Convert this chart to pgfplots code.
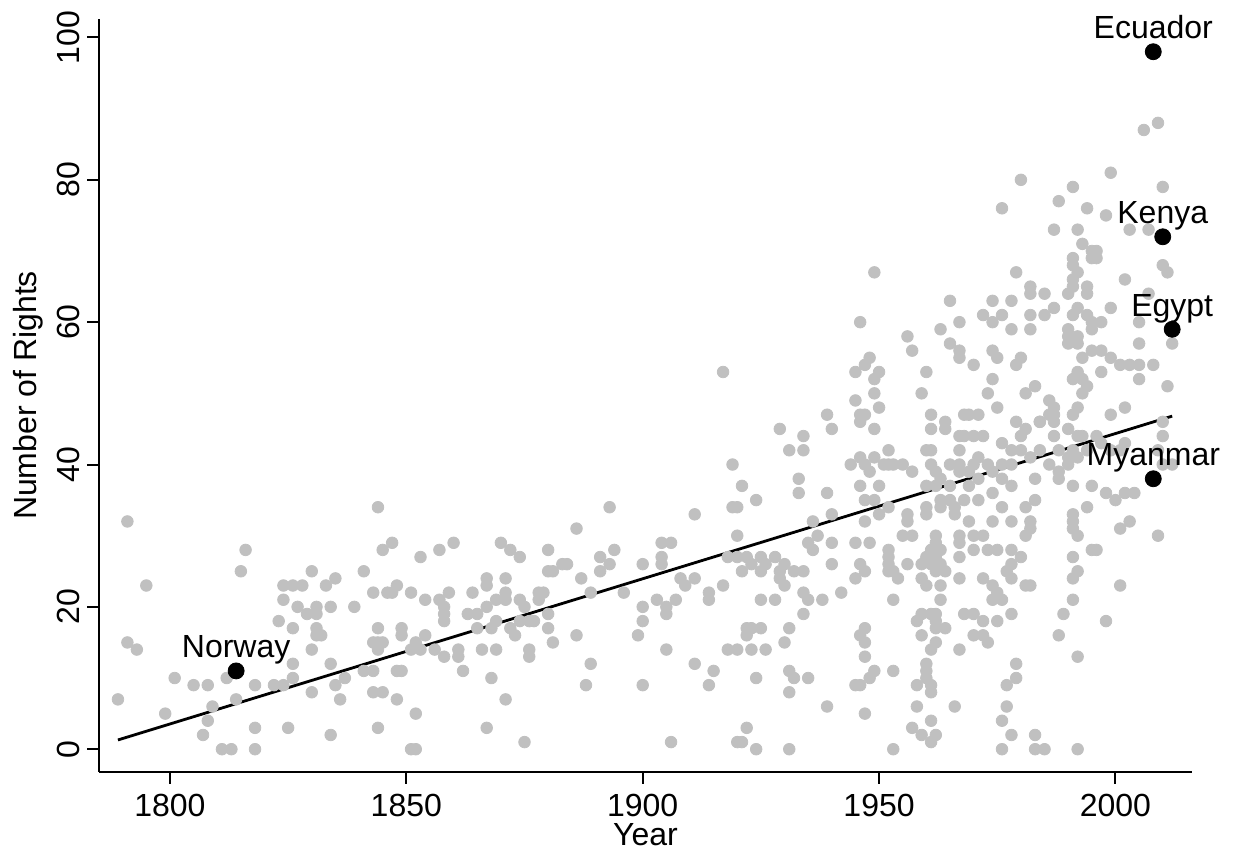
\documentclass[border=0pt]{standalone}
\usepackage{pgfplots}
\pgfplotsset{compat=1.18}
\usepackage{fontspec}
\setmainfont{Liberation Sans}
\definecolor{ptgray}{RGB}{192,192,192}
\begin{document}
\begin{tikzpicture}
\begin{axis}[
 scale only axis, width=546.5pt, height=376.5pt,
 xmin=1785, xmax=2016.2, ymin=-3.2, ymax=102.6,
 axis x line*=bottom, axis y line*=left,
 axis line style={line width=1pt, -},
 xtick={1800,1850,...,2000}, ytick={0,20,...,100},
 tick align=outside, major tick length=6pt, tick style={line width=1pt, black},
 /pgf/number format/assume math mode=true, /pgf/number format/1000 sep={},
 ticklabel style={font=\fontsize{16}{19}\selectfont},
 yticklabel style={rotate=90, anchor=south},
 xticklabel style={anchor=north, yshift=-1.5pt},
 xlabel={Year}, ylabel={Number of Rights},
 label style={font=\fontsize{16}{19}\selectfont},
 xlabel style={at={(axis description cs:0.5,-0.0975)}, anchor=base},
 ylabel style={at={(axis description cs:-0.065,0.5)}, anchor=center},
 clip=false,
]
\addplot[only marks, mark=*, mark size=2.9pt, color=ptgray, mark options={draw=ptgray, fill=ptgray}] table {
x y
1791 32
1816 28
1815 25
1795 23
1824 23
1826 23
1828 23
1830 25
1835 24
1833 23
1841 25
1824 21
1827 20
1829 19
1831 19
1831 20
1834 20
1839 20
1823 18
1826 17
1831 17
1831 16
1832 16
1791 15
1793 14
1830 14
1826 12
1834 12
1801 10
1805 9
1808 9
1812 10
1818 9
1822 9
1824 9
1826 10
1835 9
1837 10
1789 7
1814 7
1809 6
1830 8
1836 7
1799 5
1808 4
1807 2
1818 3
1825 3
1834 2
1811 0
1813 0
1818 0
1844 34
1893 34
1886 31
1847 29
1845 28
1853 27
1857 28
1860 29
1870 29
1872 28
1874 27
1880 28
1891 27
1894 28
1893 26
1883 26
1884 26
1880 25
1881 25
1891 25
1887 24
1867 24
1867 23
1871 24
1848 23
1843 22
1846 22
1847 22
1851 22
1854 21
1859 22
1857 21
1858 20
1858 19
1858 18
1864 22
1867 20
1869 21
1871 22
1871 21
1874 21
1875 20
1878 22
1879 22
1878 21
1880 19
1863 19
1865 19
1865 17
1868 17
1869 18
1872 17
1873 16
1874 18
1876 18
1877 18
1880 17
1881 15
1886 16
1889 22
1896 22
1899 16
1844 17
1849 17
1849 16
1843 15
1844 15
1845 15
1844 14
1852 15
1854 16
1851 14
1853 14
1856 14
1858 13
1861 14
1861 13
1866 14
1869 14
1876 14
1876 13
1841 11
1843 11
1848 11
1849 11
1862 11
1868 10
1889 12
1888 9
1843 8
1845 8
1848 7
1871 7
1852 5
1844 3
1867 3
1875 1
1851 0
1852 0
1900 26
1900 20
1900 18
1900 9
1917 53
1929 45
1934 44
1931 42
1934 42
1919 40
1921 37
1933 38
1933 36
1924 35
1919 34
1920 34
1911 33
1920 30
1936 32
1904 29
1906 29
1904 27
1904 26
1908 24
1909 23
1911 24
1917 23
1914 22
1914 21
1918 27
1920 27
1922 27
1923 26
1925 27
1925 25
1926 26
1928 27
1929 25
1930 26
1929 24
1932 25
1921 25
1934 25
1930 23
1934 22
1935 21
1925 21
1928 21
1934 19
1903 21
1905 20
1905 19
1907 21
1905 14
1911 12
1915 11
1914 9
1922 17
1923 17
1925 17
1922 16
1918 14
1920 14
1923 14
1926 14
1930 15
1931 17
1924 10
1931 11
1932 10
1931 8
1935 10
1922 3
1906 1
1920 1
1921 1
1924 0
1931 0
1949 67
1965 63
1946 60
1967 60
1963 59
1956 58
1957 56
1965 57
1967 56
1967 55
1948 55
1947 54
1945 53
1950 53
1949 52
1960 53
1959 50
1949 50
1945 49
1950 48
1946 47
1947 47
1946 46
1949 45
1939 47
1940 45
1961 47
1961 45
1964 46
1964 45
1967 44
1968 47
1952 42
1960 42
1961 42
1944 40
1946 41
1947 40
1948 39
1949 41
1951 40
1952 40
1953 40
1955 40
1957 39
1961 40
1962 39
1963 38
1965 40
1967 40
1967 39
1946 37
1950 37
1939 36
1947 35
1949 35
1952 34
1950 33
1947 32
1956 33
1956 32
1960 34
1960 33
1963 35
1963 34
1965 37
1965 35
1966 34
1966 33
1960 37
1962 37
1940 33
1937 30
1936 28
1935 29
1940 29
1945 29
1948 29
1955 30
1957 30
1962 30
1967 30
1952 28
1952 27
1952 26
1953 25
1954 24
1952 25
1956 26
1946 26
1947 25
1945 24
1940 26
1960 27
1961 26
1962 27
1963 26
1962 25
1964 25
1959 26
1961 28
1962 29
1963 28
1959 24
1960 23
1963 23
1967 29
1967 27
1967 24
1938 21
1942 22
1953 21
1963 21
1959 19
1958 18
1961 19
1962 19
1962 18
1964 17
1959 16
1962 17
1947 17
1946 16
1947 15
1947 13
1962 15
1961 14
1967 14
1968 19
1960 12
1960 11
1960 10
1961 9
1961 8
1958 9
1953 11
1949 11
1948 10
1946 9
1945 9
1939 6
1947 5
1958 6
1966 6
1961 4
1957 3
1959 2
1962 2
1961 1
1953 0
1969 32
1974 32
1978 32
1982 32
1982 31
1981 30
1970 30
1972 30
1991 32
1991 31
1992 30
2001 31
2003 32
2009 30
1970 28
1973 28
1975 28
1978 28
1980 27
1978 26
1977 25
1978 24
1972 24
1974 23
1975 22
1974 21
1976 21
1981 23
1982 23
1991 27
1992 25
1991 24
1991 21
1989 19
1988 16
1992 13
1995 28
1996 28
2001 23
1998 18
1970 19
1972 18
1975 18
1978 19
1970 16
1972 16
1973 15
1979 12
1979 10
1977 9
1977 6
1976 4
1978 2
1976 0
1983 2
1983 0
1985 0
1992 0
1974 63
1978 63
1982 64
1985 64
1990 64
1972 61
1974 60
1976 61
1978 59
1982 59
1982 61
1985 61
1987 62
1991 61
1992 62
1994 61
1995 60
1997 60
1999 62
1990 59
1990 58
1992 58
1995 59
1990 57
1992 57
2005 60
2005 57
2012 57
1974 56
1975 55
1980 55
1979 54
1970 54
1993 55
1995 56
1997 56
1999 55
2001 54
2003 54
2005 54
2008 54
1992 53
1991 52
1993 52
1994 51
1997 53
1993 50
2005 52
2011 51
1974 52
1973 50
1981 50
1983 51
1986 49
1987 48
1987 47
1986 47
1987 46
1984 46
1992 48
1991 47
1975 48
2002 48
1999 47
2010 46
2010 44
1969 47
1971 47
1970 44
1968 44
1972 44
1967 42
1979 46
1980 44
1981 45
1984 46
1976 43
1978 42
1980 42
1987 44
1984 42
1982 41
1978 40
1976 40
1973 40
1974 39
1971 41
1970 40
1969 39
1990 45
1992 44
1993 44
1991 42
1988 42
1990 41
1992 41
1990 40
1988 39
1994 42
1996 44
1997 43
1999 42
2001 42
2002 43
2009 42
2010 40
2012 40
1976 38
1971 38
1969 37
1974 36
1978 37
1983 38
1986 40
1988 38
1991 37
1995 37
1998 36
2002 36
2004 36
2000 35
1994 34
1983 35
1981 34
1976 34
1971 35
1968 35
1991 33
2006 87
2009 88
1999 81
1980 80
1991 79
2010 79
1976 76
1988 77
1994 76
1998 75
1987 73
1992 73
2003 73
2007 73
1993 71
1995 70
1996 70
1995 69
1996 69
1991 69
1991 68
1992 67
1991 66
1991 65
1994 65
1994 64
1979 67
1982 65
2002 66
2010 68
2011 67
2007 64
};
\addplot[black, line width=1.4pt] coordinates {(1789,1.3) (2012,46.8)};
\addplot[only marks, mark=*, mark size=4pt, black,
  nodes near coords, point meta=explicit symbolic,
  every node near coord/.append style={anchor=base, yshift=6.5pt, inner sep=0pt, font=\fontsize{16}{19}\selectfont, text=black}]
  table[meta=label] {
x y label
1814 11 Norway
2008 98 Ecuador
2010 72 Kenya
2012 59 Egypt
2008 38 Myanmar
};
\coordinate (bbl) at (rel axis cs:-0.0906,-0.1036);
\coordinate (btr) at (rel axis cs:1.0393,1.0252);
\end{axis}
\pgfresetboundingbox
\useasboundingbox (bbl) rectangle (btr);
\end{tikzpicture}
\end{document}
